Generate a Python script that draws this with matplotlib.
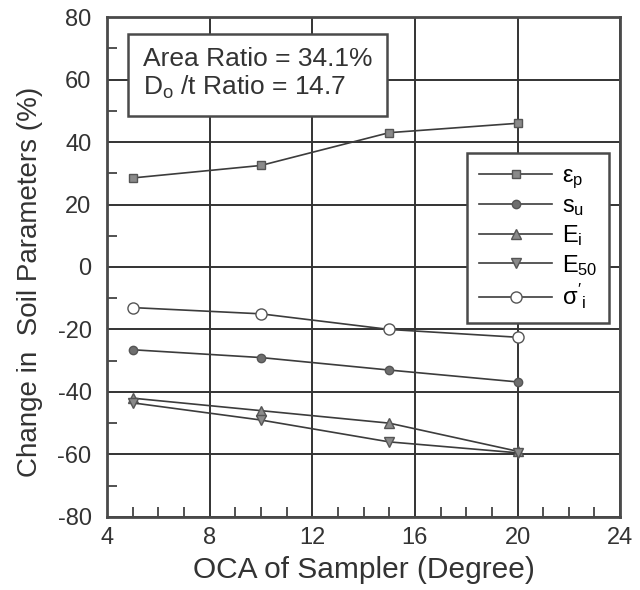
import matplotlib.pyplot as plt
from matplotlib.ticker import MultipleLocator

plt.rcParams['font.family'] = ['Liberation Sans', 'DejaVu Sans']
plt.rcParams['mathtext.fontset'] = 'custom'
plt.rcParams['mathtext.rm'] = 'Liberation Sans'
plt.rcParams['mathtext.it'] = 'Liberation Sans'
plt.rcParams['axes.unicode_minus'] = False

# OCA of sampler (degree)
oca = [5, 10, 15, 20]

# change in soil parameters (%)
eps_p = [28.5, 32.5, 43, 46]
s_u = [-26.5, -29, -33, -36.8]
E_i = [-42, -46, -50, -59]
E_50 = [-43.5, -49, -56, -59.5]
sigma_i = [-13, -15, -20, -22.5]

series = [
    (eps_p, r'$\varepsilon_p$', 's', '#8a8a8a', 6),
    (s_u, r'$s_u$', 'o', '#6e6e6e', 6),
    (E_i, r'$E_i$', '^', '#8a8a8a', 7),
    (E_50, r'$E_{50}$', 'v', '#8a8a8a', 7),
    (sigma_i, r"$\sigma'_i$", 'o', 'white', 8),
]

line_col = '#3c3c3c'

fig = plt.figure(figsize=(6.4, 5.9), dpi=100)
ax = fig.add_axes([0.167, 0.124, 0.802, 0.847])

for vals, lab, mk, fc, ms in series:
    ax.plot(oca, vals, color=line_col, lw=1.2, marker=mk, markersize=ms,
            markerfacecolor=fc, markeredgecolor='#555555', markeredgewidth=1,
            label=lab, zorder=3)

ax.set_xlim(4, 24)
ax.set_ylim(-80, 80)
ax.xaxis.set_major_locator(MultipleLocator(4))
ax.yaxis.set_major_locator(MultipleLocator(20))
ax.xaxis.set_minor_locator(MultipleLocator(1))
ax.yaxis.set_minor_locator(MultipleLocator(10))
ax.tick_params(which='both', direction='in', top=False, right=False,
               labelsize=17, colors='#333333')
ax.tick_params(axis='x', pad=7)
ax.tick_params(axis='y', pad=11)
ax.tick_params(which='major', length=0)
ax.tick_params(which='minor', length=7, width=1.2)
ax.grid(True, which='major', color='#333333', lw=1.4)
for s in ax.spines.values():
    s.set_color('#4a4a4a')
    s.set_linewidth(2)

ax.set_xlabel('OCA of Sampler (Degree)', fontsize=21.5, color='#333333', labelpad=5)
ax.set_ylabel('Change in  Soil Parameters (%)', fontsize=20, color='#333333')
ax.yaxis.set_label_coords(-0.125, 0.47)

ax.text(0.07, 0.94, 'Area Ratio = 34.1%\nD$_o$ /t Ratio = 14.7',
        transform=ax.transAxes, fontsize=19, color='#333333', va='top',
        linespacing=1.15,
        bbox=dict(boxstyle='square,pad=0.55', fc='white', ec='#4a4a4a', lw=1.8))

leg = ax.legend(loc='upper left', bbox_to_anchor=(0.702, 0.728), borderaxespad=0,
                fontsize=17, handlelength=3.1, handletextpad=0.4,
                labelspacing=0.2, borderpad=0.5,
                fancybox=False, framealpha=1, edgecolor='#4a4a4a')
leg.get_frame().set_linewidth(1.8)
leg.set_zorder(5)

fig.savefig('out.png', dpi=100)
